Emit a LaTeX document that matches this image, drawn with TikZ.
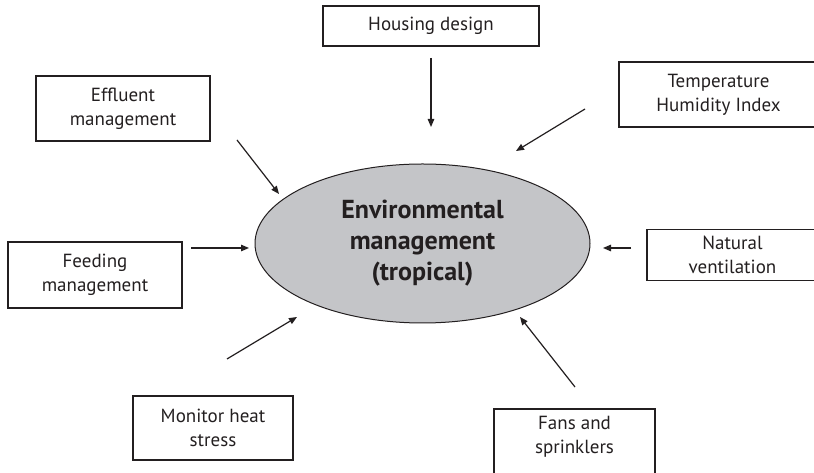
\documentclass[tikz,border=0pt]{standalone}
\usepackage{fontspec}
\setmainfont{PT Sans}
\usepackage{tikz}
\usetikzlibrary{arrows.meta, shapes.geometric}
\definecolor{blob}{RGB}{196, 197, 200}
\definecolor{ink}{RGB}{35, 31, 32}

\begin{document}
\begin{tikzpicture}[x=1pt, y=1pt,
  factor/.style={draw=ink, line width=1.2pt, align=center, inner sep=0pt,
    text=ink, font=\fontsize{19}{24}\selectfont},
  feed/.style={draw=ink, line width=1.2pt, -{Triangle[length=8pt, width=6.5pt]}}]

  \useasboundingbox (0, 0) rectangle (814, 473);
  \clip (0, 0) rectangle (814, 473);

  % the centre
  \node[ellipse, draw=ink, fill=blob, line width=1pt, inner sep=0pt,
    minimum width=335pt, minimum height=159pt, align=center, text=ink,
    font=\bfseries\fontsize{26}{31}\selectfont] (env) at (422.5, 229.5)
    {Environmental\\management\\(tropical)};

  % the factors
  \node[factor, minimum width=216pt, minimum height=40pt] (housing) at (431, 447) {Housing design};
  \node[factor, minimum width=174pt, minimum height=65pt] (effluent) at (123, 364.5) {Effluent\\management};
  \node[factor, minimum width=199pt, minimum height=65pt] (thi) at (718.5, 378.5) {Temperature\\Humidity Index};
  \node[factor, minimum width=174pt, minimum height=66pt] (feeding) at (95, 198) {Feeding\\management};
  \node[factor, minimum width=171pt, minimum height=51pt] (natural) at (732.5, 218) {Natural\\ventilation};
  \node[factor, minimum width=160pt, minimum height=64pt] (monitor) at (213, 45) {Monitor heat\\stress};
  \node[factor, minimum width=161pt, minimum height=76pt, text depth=24pt] (fans) at (574.5, 26) {Fans and\\sprinklers};

  % arrow ends
  \coordinate (housing-t) at (431, 415);    \coordinate (housing-h) at (431, 346);
  \coordinate (thi-t) at (585, 364);        \coordinate (thi-h) at (516, 322);
  \coordinate (effluent-t) at (237, 333);   \coordinate (effluent-h) at (279, 279);
  \coordinate (feeding-t) at (191, 225);    \coordinate (feeding-h) at (249, 225);
  \coordinate (natural-t) at (631, 225);    \coordinate (natural-h) at (603, 225);
  \coordinate (monitor-t) at (227, 114);    \coordinate (monitor-h) at (297, 156);
  \coordinate (fans-t) at (575, 86);        \coordinate (fans-h) at (520, 156);

  \foreach \f in {housing, thi, effluent, feeding, natural, monitor, fans} {
    \draw[feed] (\f-t) -- (\f-h);
  }

\end{tikzpicture}
\end{document}
